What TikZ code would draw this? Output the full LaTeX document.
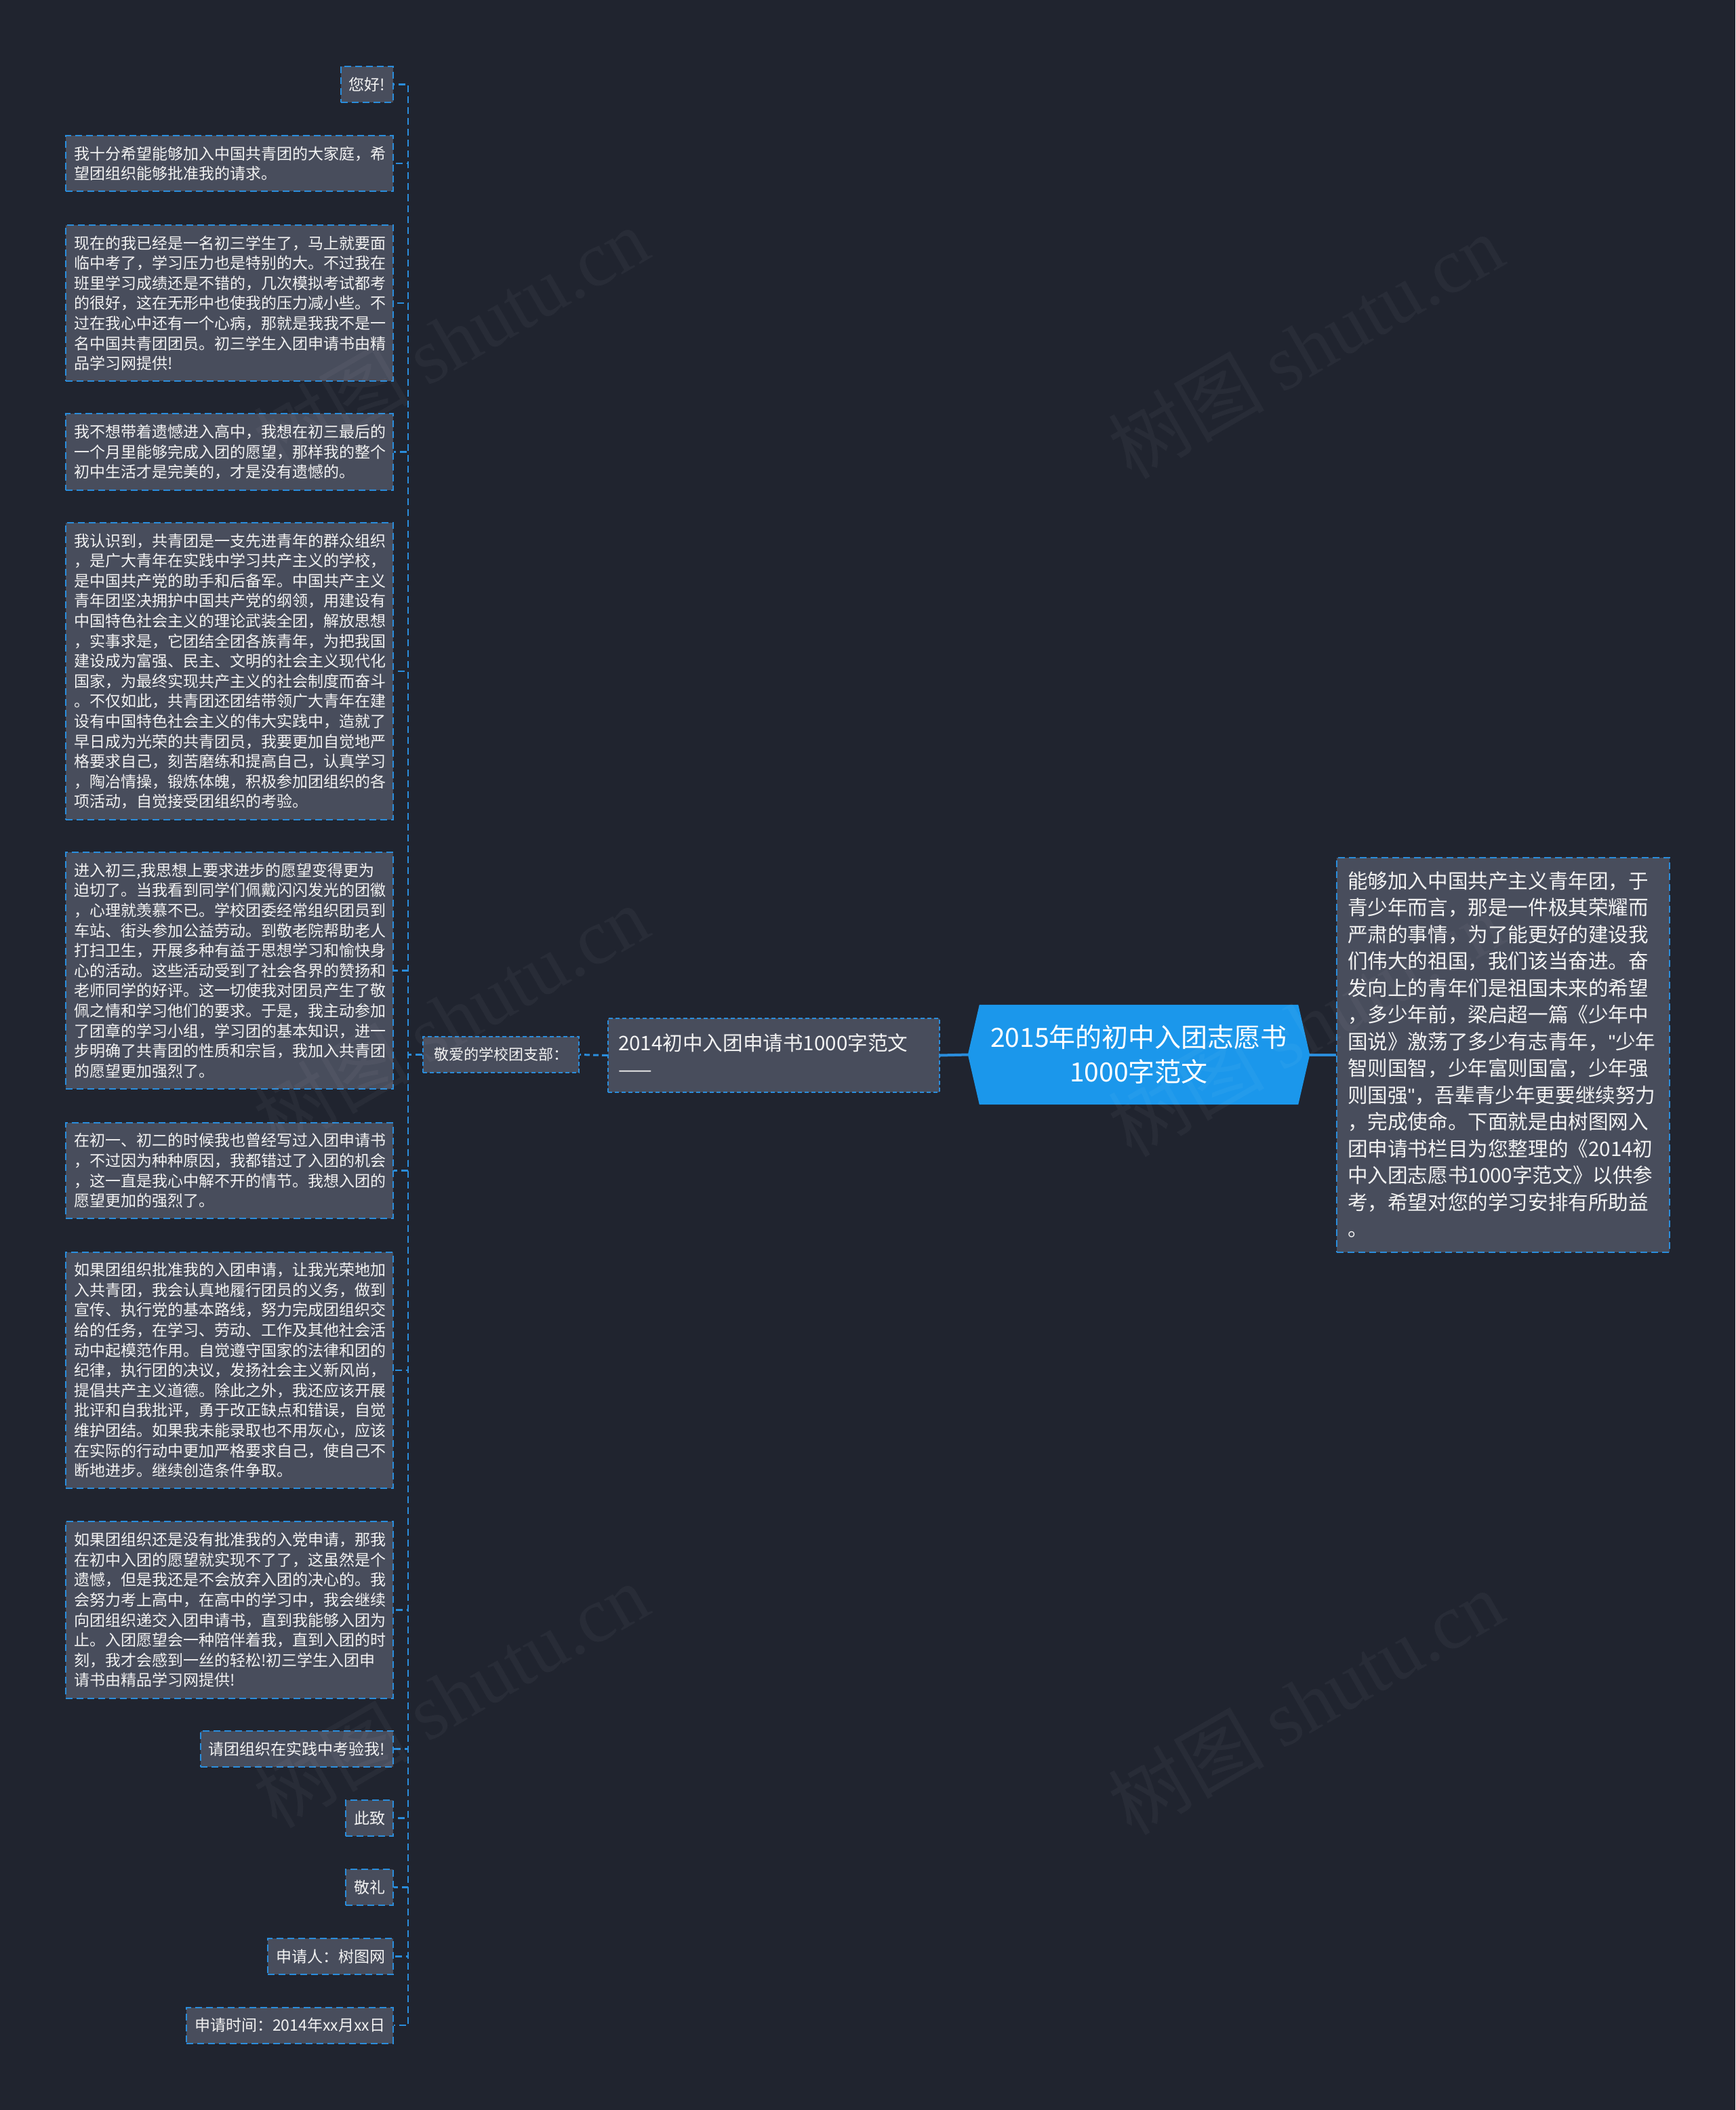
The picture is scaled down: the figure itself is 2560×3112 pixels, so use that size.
\documentclass[tikz,border=0pt]{standalone}
\usepackage{fontspec}
\setmainfont{Noto Sans CJK SC}
\newfontfamily\wmlatin{Liberation Serif}
\newfontfamily\latinsans{Liberation Sans}
\usetikzlibrary{calc}
\pgfdeclarelayer{bg}
\pgfsetlayers{bg,main}
\definecolor{bgc}{HTML}{20242F}
\definecolor{boxfill}{HTML}{484D5C}
\definecolor{lineblue}{HTML}{2A8DDC}
\definecolor{rootblue}{HTML}{1B97EB}
\definecolor{txt}{HTML}{F2F2F2}
\newcommand{\dq}{{\latinsans\char"0022}}
\begin{document}
\begin{tikzpicture}[x=1pt,y=-1pt,
  box/.style={draw=lineblue, fill=boxfill, line width=2pt, dash pattern=on 10pt off 6pt, text=txt, inner xsep=12pt, inner ysep=0pt, align=left},
  leaf/.style={box, anchor=east, font=\fontsize{23}{29.6}\selectfont},
  bigleaf/.style={leaf, text width=459pt},
  conn/.style={draw=lineblue, line width=2.5pt, dash pattern=on 10pt off 6pt},
  mainline/.style={draw=lineblue, line width=4pt},
  wm/.style={rotate=30, text=white, text opacity=0.04, font=\fontsize{115}{115}\selectfont}
]
\useasboundingbox (0,0) rectangle (2560,3112);

% left column
\node[leaf, minimum height=53pt] (b1) at (581,124.5) {您好!};
\node[bigleaf, minimum height=82pt] (b2) at (581,241) {我十分希望能够加入中国共青团的大家庭，希\\望团组织能够批准我的请求。};
\node[bigleaf, minimum height=230pt] (b3) at (581,447) {现在的我已经是一名初三学生了，马上就要面\\临中考了，学习压力也是特别的大。不过我在\\班里学习成绩还是不错的，几次模拟考试都考\\的很好，这在无形中也使我的压力减小些。不\\过在我心中还有一个心病，那就是我我不是一\\名中国共青团团员。初三学生入团申请书由精\\品学习网提供!};
\node[bigleaf, minimum height=113pt] (b4) at (581,666.5) {我不想带着遗憾进入高中，我想在初三最后的\\一个月里能够完成入团的愿望，那样我的整个\\初中生活才是完美的，才是没有遗憾的。};
\node[bigleaf, minimum height=438pt] (b5) at (581,990) {我认识到，共青团是一支先进青年的群众组织\\，是广大青年在实践中学习共产主义的学校，\\是中国共产党的助手和后备军。中国共产主义\\青年团坚决拥护中国共产党的纲领，用建设有\\中国特色社会主义的理论武装全团，解放思想\\，实事求是，它团结全团各族青年，为把我国\\建设成为富强、民主、文明的社会主义现代化\\国家，为最终实现共产主义的社会制度而奋斗\\。不仅如此，共青团还团结带领广大青年在建\\设有中国特色社会主义的伟大实践中，造就了\\早日成为光荣的共青团员，我要更加自觉地严\\格要求自己，刻苦磨练和提高自己，认真学习\\，陶冶情操，锻炼体魄，积极参加团组织的各\\项活动，自觉接受团组织的考验。};
\node[bigleaf, minimum height=349pt] (b6) at (581,1431.5) {进入初三,我思想上要求进步的愿望变得更为\\迫切了。当我看到同学们佩戴闪闪发光的团徽\\，心理就羡慕不已。学校团委经常组织团员到\\车站、街头参加公益劳动。到敬老院帮助老人\\打扫卫生，开展多种有益于思想学习和愉快身\\心的活动。这些活动受到了社会各界的赞扬和\\老师同学的好评。这一切使我对团员产生了敬\\佩之情和学习他们的要求。于是，我主动参加\\了团章的学习小组，学习团的基本知识，进一\\步明确了共青团的性质和宗旨，我加入共青团\\的愿望更加强烈了。};
\node[bigleaf, minimum height=141pt] (b7) at (581,1726.5) {在初一、初二的时候我也曾经写过入团申请书\\，不过因为种种原因，我都错过了入团的机会\\，这一直是我心中解不开的情节。我想入团的\\愿望更加的强烈了。};
\node[bigleaf, minimum height=348pt] (b8) at (581,2021) {如果团组织批准我的入团申请，让我光荣地加\\入共青团，我会认真地履行团员的义务，做到\\宣传、执行党的基本路线，努力完成团组织交\\给的任务，在学习、劳动、工作及其他社会活\\动中起模范作用。自觉遵守国家的法律和团的\\纪律，执行团的决议，发扬社会主义新风尚，\\提倡共产主义道德。除此之外，我还应该开展\\批评和自我批评，勇于改正缺点和错误，自觉\\维护团结。如果我未能录取也不用灰心，应该\\在实际的行动中更加严格要求自己，使自己不\\断地进步。继续创造条件争取。};
\node[bigleaf, minimum height=261pt] (b9) at (581,2374.5) {如果团组织还是没有批准我的入党申请，那我\\在初中入团的愿望就实现不了了，这虽然是个\\遗憾，但是我还是不会放弃入团的决心的。我\\会努力考上高中，在高中的学习中，我会继续\\向团组织递交入团申请书，直到我能够入团为\\止。入团愿望会一种陪伴着我，直到入团的时\\刻，我才会感到一丝的轻松!初三学生入团申\\请书由精品学习网提供!};
\node[leaf, minimum height=53pt] (b10) at (581,2579.5) {请团组织在实践中考验我!};
\node[leaf, minimum height=53pt] (b11) at (581,2681.5) {此致};
\node[leaf, minimum height=53pt] (b12) at (581,2783.5) {敬礼};
\node[leaf, minimum height=53pt] (b13) at (581,2885.5) {申请人：树图网};
\node[leaf, minimum height=53pt] (b14) at (581,2987) {申请时间：2014年xx月xx日};

% hub and sub
\node[box, font=\fontsize{22}{28}\selectfont, minimum width=230pt, minimum height=53pt, inner xsep=0pt, dash pattern=on 6pt off 4pt] (hub) at (739,1555.5) {敬爱的学校团支部：};
\node[box, font=\fontsize{29.6}{39.6}\selectfont, text width=459pt, inner xsep=15pt, minimum height=109pt, dash pattern=on 6pt off 4pt] (sub) at (1141.5,1556.5) {2014初中入团申请书1000字范文\\——};

% root
\node[font=\fontsize{39}{51}\selectfont, text=white, align=center, minimum width=504pt, minimum height=147pt, inner sep=0pt] (root) at (1680,1555.5) {2015年的初中入团志愿书\\1000字范文};

% description
\node[box, anchor=west, font=\fontsize{29.6}{39.5}\selectfont, text width=459pt, inner xsep=16pt, minimum height=582pt] (desc) at (1971,1555.5) {能够加入中国共产主义青年团，于\\青少年而言，那是一件极其荣耀而\\严肃的事情，为了能更好的建设我\\们伟大的祖国，我们该当奋进。奋\\发向上的青年们是祖国未来的希望\\，多少年前，梁启超一篇《少年中\\国说》激荡了多少有志青年，\dq 少年\\智则国智，少年富则国富，少年强\\则国强\dq ，吾辈青少年更要继续努力\\，完成使命。下面就是由树图网入\\团申请书栏目为您整理的《2014初\\中入团志愿书1000字范文》以供参\\考，希望对您的学习安排有所助益\\。};

% connectors
\draw[mainline] (root.west) -- (sub.east);
\draw[mainline] (root.east) -- (desc.west);
\draw[conn, line width=3pt, dash pattern=on 8pt off 5pt] (sub.west) -- (hub.east);
\foreach \i in {1,...,14} {
  \draw[conn] (hub.west) -- ++(-21,0) |- (b\i.east);
}

\begin{pgfonlayer}{bg}
\fill[bgc] (0,0) rectangle (2560,3112);
\fill[rootblue] ($(root.north west)+(17,0)$) -- ($(root.north east)+(-17,0)$) -- (root.east) -- ($(root.south east)+(-17,0)$) -- ($(root.south west)+(17,0)$) -- (root.west) -- cycle;
\end{pgfonlayer}

% watermarks
\node[wm] (wm1) at (665,500) {树图 {\wmlatin shutu.cn}};
\node[wm] (wm2) at (1926,510) {树图 {\wmlatin shutu.cn}};
\node[wm] (wm3) at (665,1500) {树图 {\wmlatin shutu.cn}};
\node[wm] (wm4) at (1926,1510) {树图 {\wmlatin shutu.cn}};
\node[wm] (wm5) at (665,2500) {树图 {\wmlatin shutu.cn}};
\node[wm] (wm6) at (1926,2510) {树图 {\wmlatin shutu.cn}};
\end{tikzpicture}
\end{document}
